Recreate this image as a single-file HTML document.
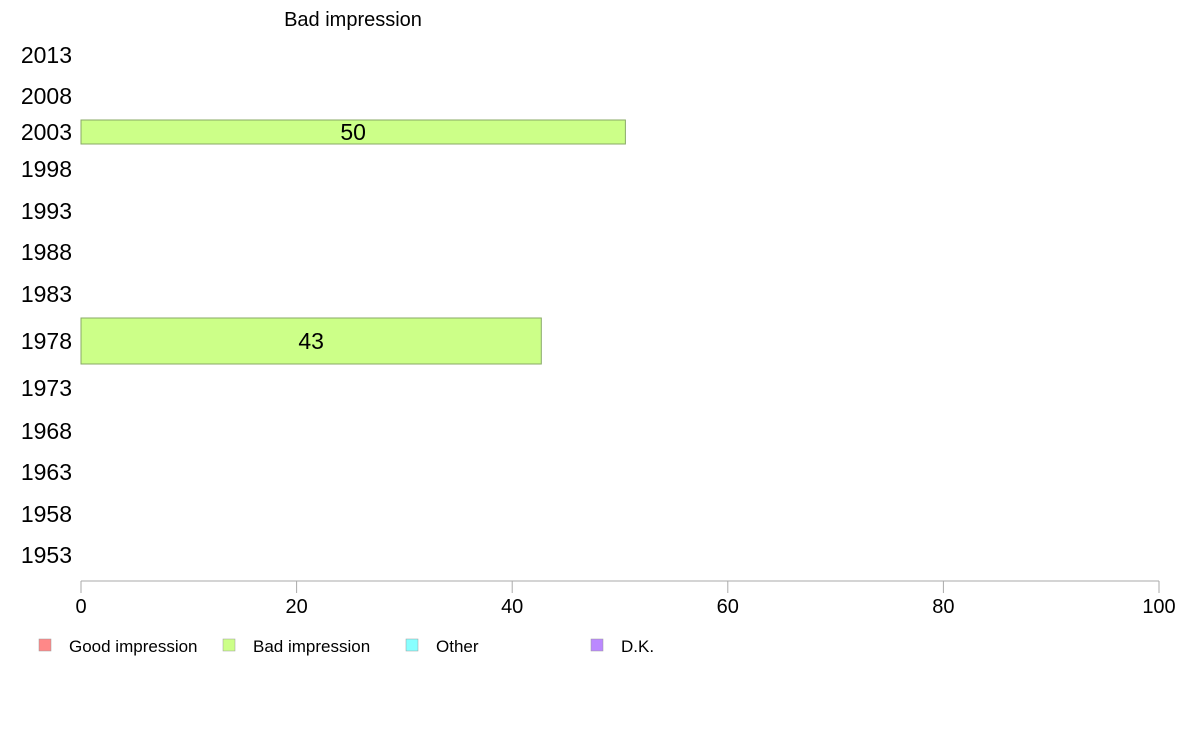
<!DOCTYPE html>
<html><head><meta charset="utf-8"><style>
body{margin:0;background:#fff;font-family:"Liberation Sans",sans-serif}
svg{display:block}
</style></head><body>
<svg id="chart" width="1188" height="736">
<text x="353" y="26" font-size="20" text-anchor="middle">Bad impression</text>
<g id="rows"></g>
<line x1="81" y1="581" x2="1159" y2="581" stroke="#aaa"/>
<g id="xaxis"></g>
<g id="legend"></g>
</svg>
<script>
const categories=["2013","2008","2003","1998","1993","1988","1983","1978","1973","1968","1963","1958","1953"];
const values=[null,null,50.5,null,null,null,null,42.7,null,null,null,null,null];
const valueLabels=[null,null,"50",null,null,null,null,"43",null,null,null,null,null];
const xTicks=[0,20,40,60,80,100];
const legendLabels=["Good impression","Bad impression","Other","D.K."];
const legendColors=["#ff8888","#ccff88","#88ffff","#bb88ff"];
// layout (row centers/heights in px)
const rowCenter=[55,96,132,169,211,252,294,341,388,431,472,514,555];
const rowBarH=[20,20,24,20,20,20,20,46,20,20,20,20,20];
const x=v=>81+v*(1159-81)/100;
const NS="http://www.w3.org/2000/svg";
const mk=(t,a,p)=>{const e=document.createElementNS(NS,t);for(const k in a)e.setAttribute(k,a[k]);p.appendChild(e);return e;};
const rows=document.getElementById('rows');
categories.forEach((c,i)=>{
  const t=mk('text',{x:72,y:rowCenter[i]+8,'font-size':23,'text-anchor':'end'},rows);
  t.textContent=c;
  
  
  if(values[i]!=null){
    const h=rowBarH[i];
    const r=mk('rect',{x:x(0),y:rowCenter[i]-h/2,width:x(values[i])-x(0),height:h,fill:"#ccff88",stroke:"#88aa66","stroke-width":1},rows);
    
    
    const l=mk('text',{x:(x(0)+x(values[i]))/2,y:rowCenter[i]+8,'font-size':23,'text-anchor':'middle'},rows);
    l.textContent=valueLabels[i];
    
    
  }
});
const xa=document.getElementById('xaxis');
xTicks.forEach(v=>{
  const ln=mk('line',{x1:x(v),y1:581,x2:x(v),y2:593,stroke:"#aaa"},xa);
  
  
  const t=mk('text',{x:x(v),y:613,'font-size':20,'text-anchor':'middle'},xa);
  t.textContent=v;
  
  
});
const lg=document.getElementById('legend');
const lx=[39,223,406,591];
legendLabels.forEach((s,i)=>{
  const r=mk('rect',{x:lx[i],y:639,width:12,height:12,fill:legendColors[i],stroke:"#999","stroke-width":0.5},lg);
  
  
  const t=mk('text',{x:lx[i]+30,y:652,'font-size':17},lg);
  t.textContent=s;
  
  
});
</script>
</body></html>
